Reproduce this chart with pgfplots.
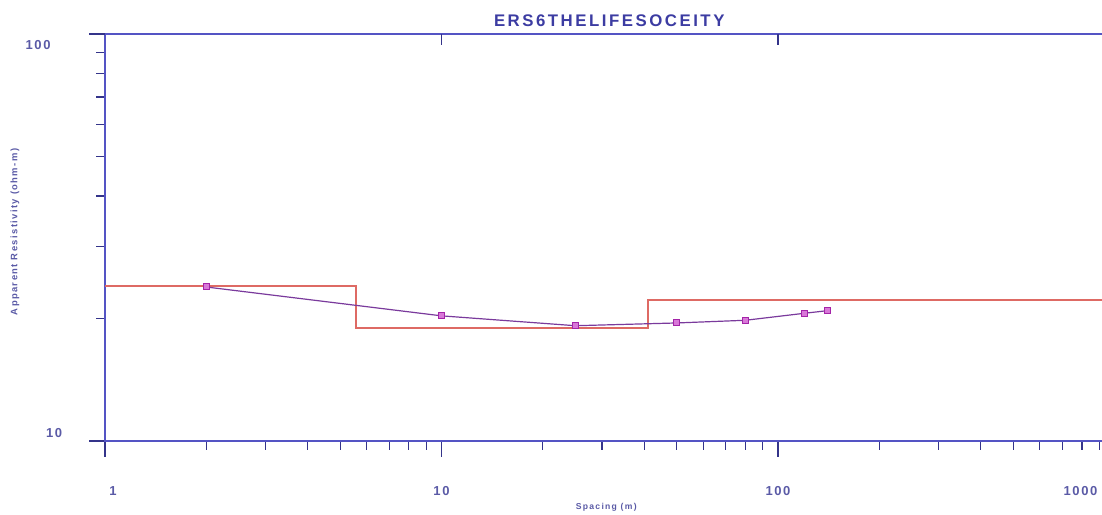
\documentclass[border=0pt]{standalone}
\usepackage{fontspec}
\setmainfont{Liberation Sans}
\usepackage{pgfplots}
\pgfplotsset{compat=1.18}
\definecolor{axcol}{HTML}{5454C4}
\definecolor{tickcol}{HTML}{34348A}
\definecolor{titlecol}{HTML}{3C3CA2}
\definecolor{labcol}{HTML}{5A5AA6}
\definecolor{modelred}{HTML}{DE6A64}
\definecolor{datapurple}{HTML}{7A3A9C}
\definecolor{markmag}{HTML}{A424A8}
\definecolor{markfill}{HTML}{D878D8}
\begin{document}
\begin{tikzpicture}
\path[use as bounding box] (0,0) rectangle (551pt,257pt);
\begin{axis}[
  at={(52.5pt,36.5pt)}, anchor=south west,
  scale only axis, width=504.75pt, height=203.5pt,
  xmode=log, ymode=log,
  xmin=1, xmax=1000, ymin=10, ymax=100,
  axis line style={axcol, line width=0.9pt},
  every tick/.style={tickcol, line width=0.6pt},
  tick align=outside, xtick pos=bottom, ytick pos=left,
  major tick length=8pt, minor tick length=4.5pt,
  xtick={1,10,100}, xticklabels={{\hphantom{00}1},10,100},
  extra x ticks={1000}, extra x tick labels={1000},
  extra x tick style={xticklabel style={xshift=-17pt}},
  minor xtick={2,3,4,5,6,7,8,9,20,30,40,50,60,70,80,90,200,300,400,500,600,700,800,900},
  ytick={10}, yticklabels={10},
  extra y ticks={100}, extra y tick labels={100},
  extra y tick style={yticklabel style={xshift=-8pt, yshift=-9.5pt}},
  minor ytick={20,30,40,50,60,70,80,90},
  xticklabel style={anchor=center, yshift=-17pt, text=labcol, font=\fontsize{6.5}{7}\selectfont\bfseries\addfontfeature{LetterSpace=12}},
  yticklabel style={anchor=center, xshift=-17.5pt, yshift=4pt, text=labcol, font=\fontsize{6.5}{7}\selectfont\bfseries\addfontfeature{LetterSpace=12}},
  every axis title shift=0pt,
  title={ERS6THELIFESOCEITY},
  title style={at={(axis description cs:0.4995,1.032)}, anchor=center, text=titlecol, font=\fontsize{8.4}{10}\selectfont\bfseries\addfontfeature{LetterSpace=15}},
  xlabel={Spacing (m)},
  xlabel style={at={(axis description cs:0.4965,-0.162)}, anchor=center, text=labcol, font=\fontsize{4.3}{5}\selectfont\bfseries\addfontfeature{LetterSpace=15}},
  ylabel={Apparent Resistivity (ohm-m)},
  ylabel style={at={(axis description cs:-0.0892,0.5135)}, anchor=center, rotate=0, text=labcol, font=\fontsize{4.7}{5}\selectfont\bfseries\addfontfeature{LetterSpace=15}},
  clip=false,
]
\addplot[const plot, color=modelred, line width=1pt] coordinates {
  (1,24.0) (5.58,18.9) (41,22.2) (1000,22.2)
};
\addplot[color=datapurple, line width=0.6pt, mark=square*, mark size=1.5pt,
  mark options={draw=markmag, fill=markfill, line width=0.5pt}] coordinates {
  (2,23.9) (10,20.3) (25,19.2) (50,19.5) (80,19.8) (120,20.6) (140,20.9)
};
\draw[tickcol, line width=0.7pt] (axis cs:10,100) -- (axis cs:10,94);
\draw[tickcol, line width=0.7pt] (axis cs:100,100) -- (axis cs:100,94);
\end{axis}
\end{tikzpicture}
\end{document}
